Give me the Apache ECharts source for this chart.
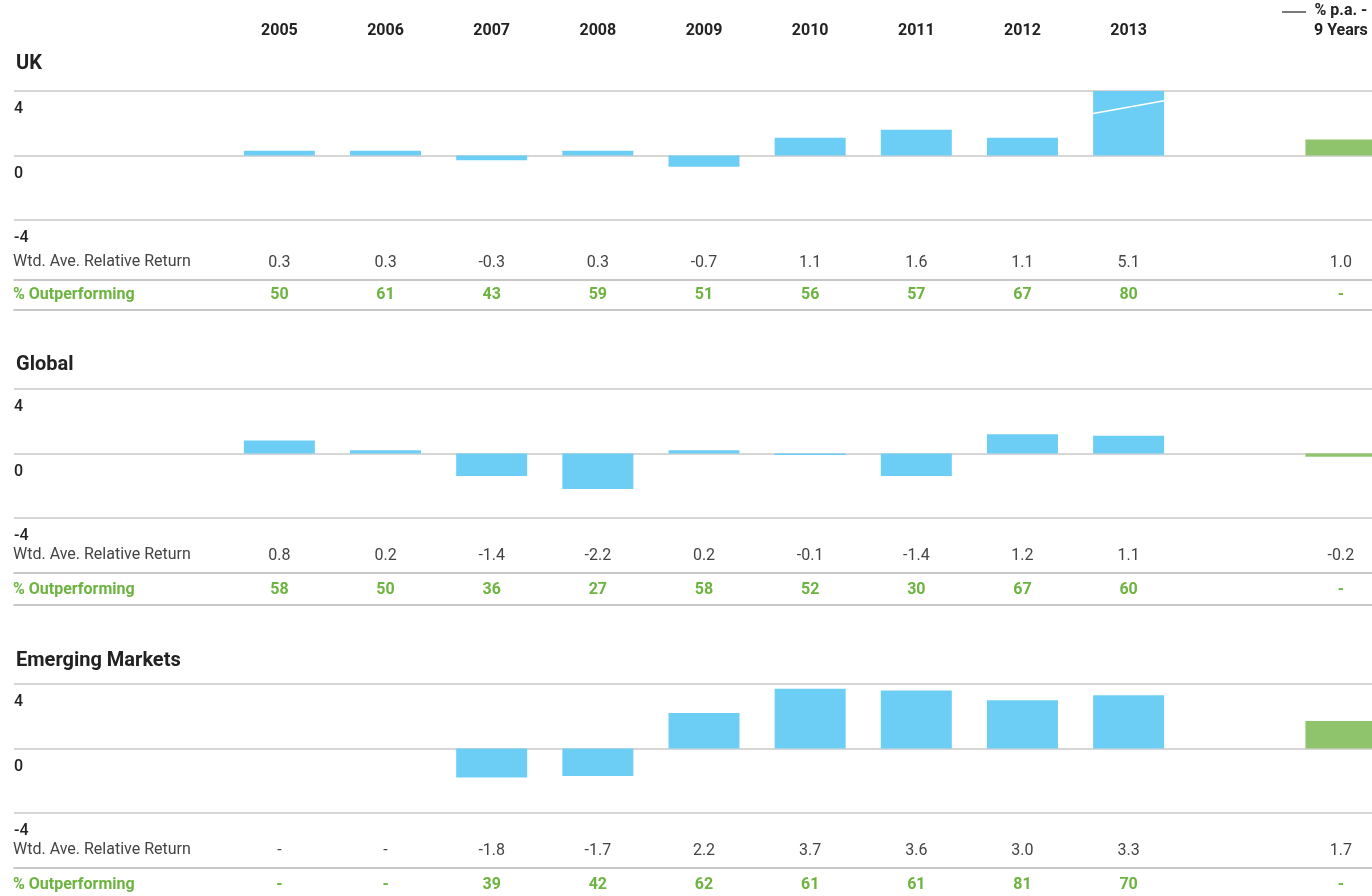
<!DOCTYPE html>
<html>
<head>
<meta charset="utf-8">
<script src="https://cdn.jsdelivr.net/npm/echarts@6/dist/echarts.min.js"></script>
<style>
    html, body { margin: 0; padding: 0; background: #fff; }
    #container { width: 1372px; height: 896px; }
</style>
</head>
<body>
<div id="container"></div>
<script>
// 数据
var years = ['2005', '2006', '2007', '2008', '2009', '2010', '2011', '2012', '2013'];
var paLabel = '% p.a. -\n9 Years';
var panelNames = ['UK', 'Global', 'Emerging Markets'];

var ukReturn = [0.3, 0.3, -0.3, 0.3, -0.7, 1.1, 1.6, 1.1, 5.1];
var ukPa = 1.0;
var ukOut = [50, 61, 43, 59, 51, 56, 57, 67, 80];

var globalReturn = [0.8, 0.2, -1.4, -2.2, 0.2, -0.1, -1.4, 1.2, 1.1];
var globalPa = -0.2;
var globalOut = [58, 50, 36, 27, 58, 52, 30, 67, 60];

var emReturn = [null, null, -1.8, -1.7, 2.2, 3.7, 3.6, 3.0, 3.3];
var emPa = 1.7;
var emOut = [null, null, 39, 42, 62, 61, 61, 81, 70];

var yTicks = [-4, 0, 4];

// 两个空位给左边的行标题, 一个空位在2013和9年之间
var categories = ['', ' '].concat(years, ['  ', paLabel]);

var blue = '#6dcef5';
var green = '#8fc46c';
var textGreen = '#6cb33f';
var lineGray = '#c8c8c8';
var font = 'Roboto';

var panels = [
    {ret: ukReturn, pa: ukPa, out: ukOut, top: 91, title: 49, off1: 60, off2: 90},
    {ret: globalReturn, pa: globalPa, out: globalOut, top: 389, title: 350, off1: 55, off2: 87},
    {ret: emReturn, pa: emPa, out: emOut, top: 684, title: 646, off1: 55, off2: 87}
];

function fmtReturn(v) {
    return v == null ? '-' : v.toFixed(1);
}
function fmtOut(v) {
    return v == null ? '-' : String(v);
}

var grid = [], xAxis = [], yAxis = [], series = [], title = [], graphic = [];

for (var i = 0; i < panels.length; i++) {
    var p = panels[i];
    // 右边超出画布, 9年那一列被裁掉一半
    grid.push({left: 14, width: 1380, top: p.top, height: 129, outerBoundsMode: 'none', containLabel: false});

    title.push({
        text: panelNames[i], left: 11, top: p.title,
        textStyle: {fontFamily: font, fontSize: 20, fontWeight: 'bold', color: '#222'}
    });

    // 柱子用的类目轴
    xAxis.push({
        type: 'category', gridIndex: i, data: categories, position: 'top',
        offset: 42,
        axisLine: {show: false}, axisTick: {show: false},
        axisLabel: {
            show: i == 0, interval: 0, margin: 8, lineHeight: 20,
            fontFamily: font, fontSize: 16, fontWeight: 'bold', color: '#222'
        }
    });

    // 表格两行
    var retLabels = ['', ''].concat(p.ret.map(fmtReturn), ['', fmtReturn(p.pa)]);
    var outLabels = ['', ''].concat(p.out.map(fmtOut), ['', '-']);
    xAxis.push({
        type: 'category', gridIndex: i, data: categories, position: 'bottom',
        offset: p.off1,
        axisLine: {lineStyle: {color: '#b5b5b5', width: 1.5}}, axisTick: {show: false},
        axisLabel: {
            inside: true, interval: 0, margin: 9,
            fontFamily: font, fontSize: 16, color: '#444',
            formatter: (function (arr) {
                return function (v, idx) { return arr[idx]; };
            })(retLabels)
        }
    });
    xAxis.push({
        type: 'category', gridIndex: i, data: categories, position: 'bottom',
        offset: p.off2,
        axisLine: {lineStyle: {color: '#b5b5b5', width: 1.5}}, axisTick: {show: false},
        axisLabel: {
            inside: true, interval: 0, margin: 7,
            fontFamily: font, fontSize: 16, fontWeight: 'bold', color: textGreen,
            formatter: (function (arr) {
                return function (v, idx) { return arr[idx]; };
            })(outLabels)
        }
    });

    yAxis.push({
        type: 'value', gridIndex: i, min: yTicks[0], max: yTicks[2], interval: 4,
        axisLine: {show: false}, axisTick: {show: false},
        splitLine: {lineStyle: {color: lineGray, width: 1.5}},
        axisLabel: {
            inside: true, verticalAlign: 'top', padding: [10, 0, 0, 0], margin: 0,
            fontFamily: font, fontSize: 16, fontWeight: 500, color: '#222'
        }
    });

    var barData = [null, null].concat(p.ret, [null, {value: p.pa, itemStyle: {color: green}}]);
    series.push({
        type: 'bar', xAxisIndex: i * 3, yAxisIndex: i,
        data: barData, barWidth: 71, itemStyle: {color: blue},
        clip: true, silent: true
    });

    // 超出范围的柱子画断线
    var breakData = [];
    for (var k = 0; k < p.ret.length; k++) {
        if (p.ret[k] != null && p.ret[k] > yTicks[2]) breakData.push([k + 2, p.ret[k]]);
    }
    if (breakData.length) {
        series.push({
            type: 'custom', xAxisIndex: i * 3, yAxisIndex: i, data: breakData,
            silent: true, z: 10,
            encode: {x: 0, y: 1},
            renderItem: function (params, api) {
                var a = api.coord([api.value(0), 2.6]);
                var b = api.coord([api.value(0), 3.4]);
                return {
                    type: 'line',
                    shape: {x1: a[0] - 35.5, y1: a[1], x2: b[0] + 35.5, y2: b[1]},
                    style: {stroke: '#ffffff', lineWidth: 1.6, fill: null}
                };
            }
        });
    }

    graphic.push({
        type: 'text', left: 13, top: p.top + 129 + p.off1 - 26,
        style: {text: 'Wtd. Ave. Relative Return', font: '16px ' + font, fill: '#444'}
    });
    graphic.push({
        type: 'text', left: 13, top: p.top + 129 + p.off2 - 23,
        style: {text: '% Outperforming', font: 'bold 16px ' + font, fill: textGreen}
    });
}

graphic.push({
    type: 'line', shape: {x1: 1282, y1: 12, x2: 1306, y2: 12},
    style: {stroke: '#222', lineWidth: 1.2}
});

var myChart = echarts.init(document.getElementById('container'));
var option = {
    animation: false,
    backgroundColor: '#fff',
    title: title,
    grid: grid,
    xAxis: xAxis,
    yAxis: yAxis,
    series: series,
    graphic: graphic
};
myChart.setOption(option);
</script>
</body>
</html>
